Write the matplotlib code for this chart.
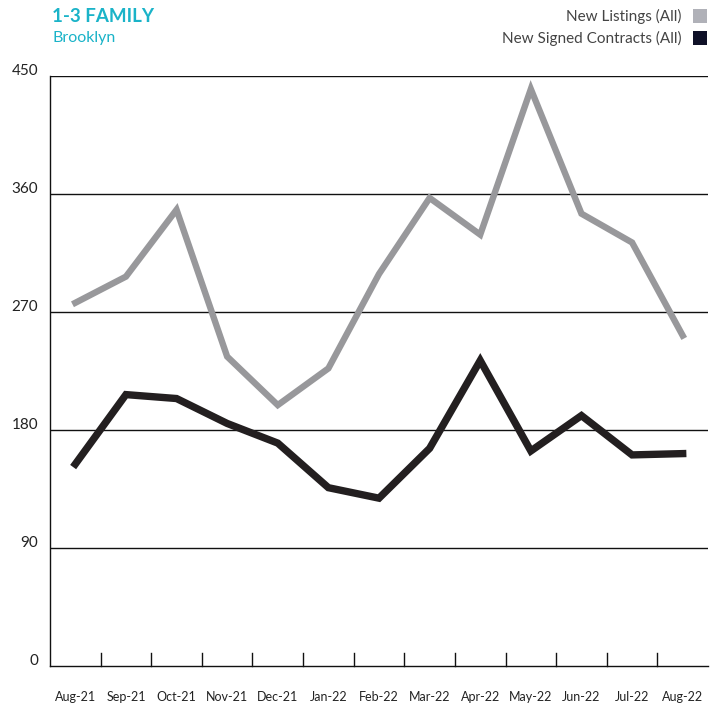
import matplotlib
matplotlib.use("Agg")
import matplotlib.pyplot as plt
from matplotlib.patches import Rectangle
from matplotlib.transforms import blended_transform_factory

plt.rcParams['font.family'] = ['Lato', 'DejaVu Sans']

months = ["Aug-21", "Sep-21", "Oct-21", "Nov-21", "Dec-21", "Jan-22", "Feb-22",
          "Mar-22", "Apr-22", "May-22", "Jun-22", "Jul-22", "Aug-22"]
new_listings = [277, 297, 348, 236, 199, 227, 299, 357, 329, 440, 345, 323, 252]
new_contracts = [154, 207, 204, 185, 170, 136, 128, 166, 233, 164, 191, 161, 162]
y_ticks = [0, 90, 180, 270, 360, 450]

W, H = 715, 704
fig = plt.figure(figsize=(W / 100, H / 100), dpi=100)
ax = fig.add_axes([50 / W, (H - 666) / H, (708 - 50) / W, (666 - 76) / H])

x = list(range(len(months)))
ax.set_xlim(-0.5, len(months) - 0.5)
ax.set_ylim(0, 450)

for v in y_ticks[1:]:
    ax.axhline(v, color='#111111', lw=1.0, zorder=1)

ax.plot(x, new_listings, color='#98989b', lw=4.6, solid_joinstyle='miter', zorder=3)
ax.plot(x, new_contracts, color='#231f20', lw=5.3, solid_joinstyle='miter', zorder=4)

for s in ['top', 'right']:
    ax.spines[s].set_visible(False)
ax.spines['left'].set_color('#111111')
ax.spines['bottom'].set_color('#111111')
ax.spines['left'].set_linewidth(1.0)
ax.spines['bottom'].set_linewidth(1.0)
ax.set_xticks([])
ax.set_yticks([])

# separator ticks between categories
for i in range(len(months) - 1):
    ax.plot([i + 0.5, i + 0.5], [0, 10], color='#111111', lw=1.0, zorder=2, clip_on=False)

# y labels
ytr = blended_transform_factory(fig.transFigure, ax.transData)
for v in y_ticks:
    ax.text(38 / W, v - 1.2, str(v), transform=ytr, ha='right', va='bottom',
            fontsize=11, color='#222222')

# x labels
xtr = blended_transform_factory(ax.transData, fig.transFigure)
for i, m in enumerate(months):
    ax.text(i, 1 - 697 / H, m, transform=xtr, ha='center', va='center',
            fontsize=9, color='#222222')

# title
fig.text(52 / W, 1 - 17 / H, "1-3 FAMILY", fontsize=13.5, fontweight='bold',
         color='#1ab3c8', va='center', ha='left')
fig.text(52 / W, 1 - 38 / H, "Brooklyn", fontsize=11.5, color='#1ab3c8',
         va='center', ha='left')

# legend
leg = [("New Listings (All)", '#b0b1b8', 16), ("New Signed Contracts (All)", '#0f1128', 38)]
for label, col, yy in leg:
    fig.text(682 / W, 1 - yy / H, label, fontsize=11, color='#444444',
             ha='right', va='center')
    fig.patches.append(Rectangle((693 / W, 1 - (yy + 7) / H), 14 / W, 14 / H,
                                 transform=fig.transFigure, facecolor=col,
                                 edgecolor='none'))

fig.savefig("out.png", dpi=100)
